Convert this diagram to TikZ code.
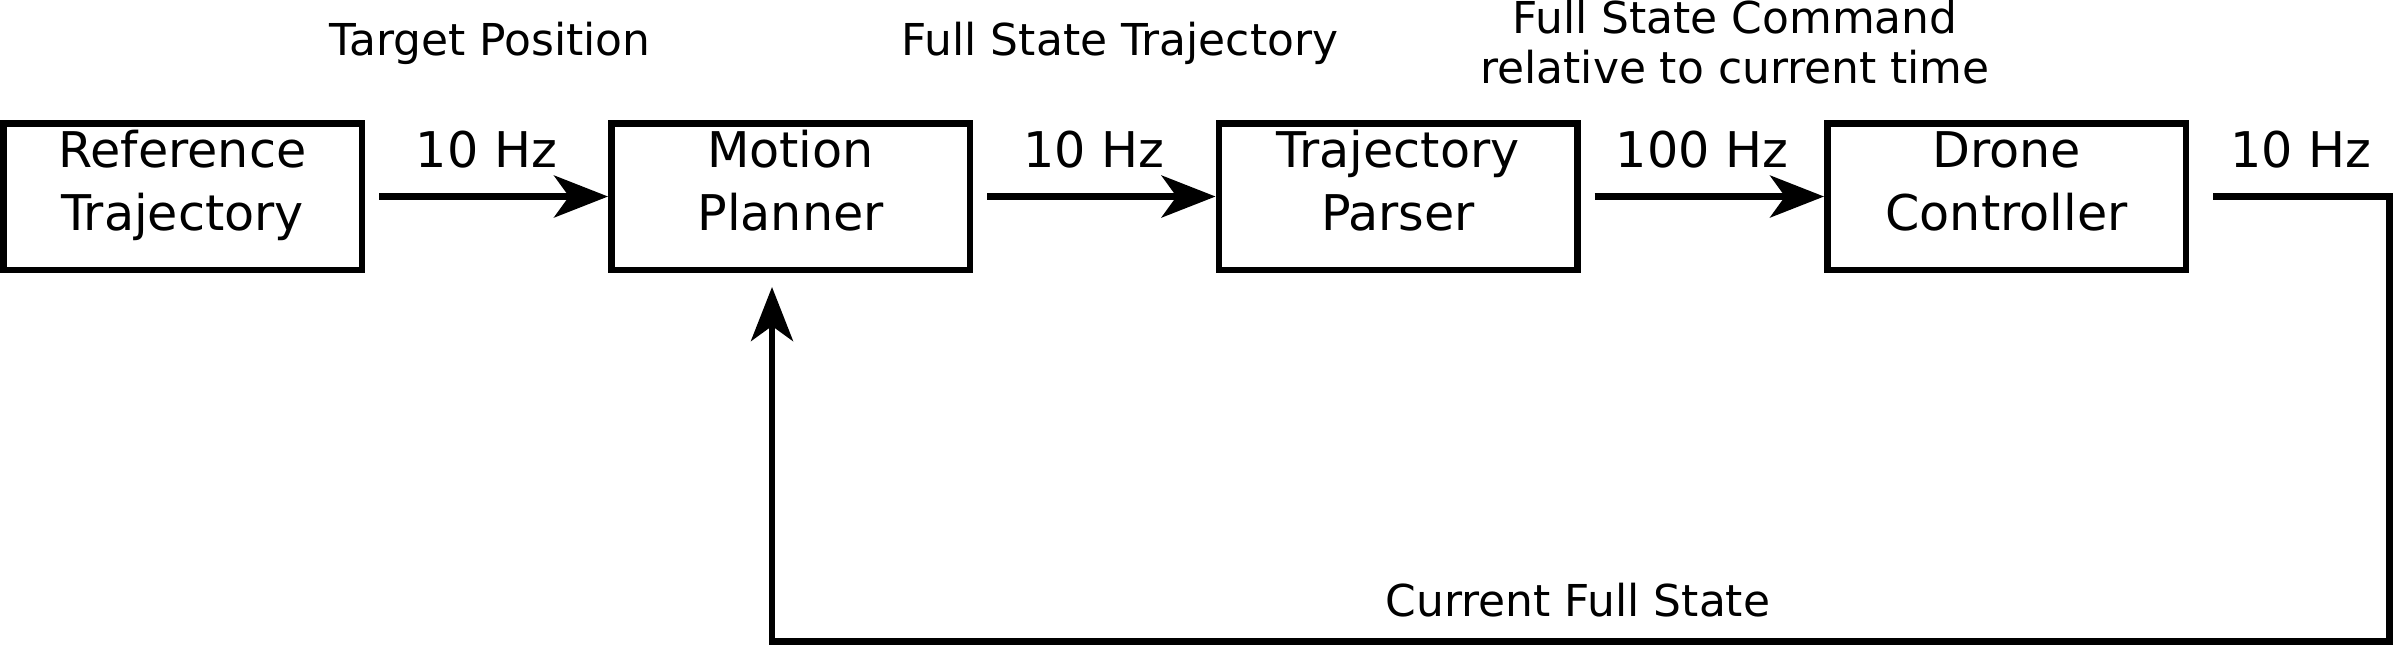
\documentclass[tikz,border=0pt]{standalone}
\usepackage{fontspec}
\setmainfont{DejaVu Sans}
\usetikzlibrary{arrows.meta}
\begin{document}
\begin{tikzpicture}[x=0.1mm,y=-0.1mm,
  every node/.style={inner sep=0pt},
  big/.style={font=\fontsize{14pt}{17.9pt}\selectfont},
  small/.style={font=\fontsize{12.5pt}{14.2pt}\selectfont},
  blk/.style={draw, line width=0.65mm, minimum width=35.85mm, minimum height=14.65mm},
  btxt/.style={big, align=center, anchor=north},
  arr/.style={line width=0.62mm, -{Stealth[length=5.4mm,width=4.2mm,inset=1.5mm]}}]
\useasboundingbox (0,0) rectangle (2395,645);
\node[blk] (b1) at (182.5,196.5) {};
\node[blk] (b2) at (790.5,196.5) {};
\node[blk] (b3) at (1398,196.5) {};
\node[blk] (b4) at (2006.5,196.5) {};
\node[btxt] (b1t) at ([yshift=-0.3mm]b1.north) {\strut Reference\\Trajectory};
\node[btxt] (b2t) at ([yshift=-0.3mm]b2.north) {\strut Motion\\Planner};
\node[btxt] (b3t) at ([yshift=-0.3mm]b3.north) {\strut Trajectory\\Parser};
\node[btxt] (b4t) at ([yshift=-0.3mm]b4.north) {\strut Drone\\Controller};
\draw[arr] ([xshift=1.4mm]b1.east) -- (b2.west);
\draw[arr] ([xshift=1.4mm]b2.east) -- (b3.west);
\draw[arr] ([xshift=1.4mm]b3.east) -- (b4.west);
\coordinate (c1) at (2389.5,196.5);
\coordinate (c2) at (2389.5,641.5);
\coordinate (c3) at (772,641.5);
\coordinate (c4) at (772,287);
\draw[arr] ([xshift=2.4mm]b4.east) -- (c1) -- (c2) -- (c3) -- (c4);
\node[big, anchor=base] (f1) at (486.5,167) {10 Hz};
\node[big, anchor=base] (f2) at (1094,167) {10 Hz};
\node[big, anchor=base] (f3) at (1702,167) {100 Hz};
\node[big, anchor=base] (f4) at (2301,167) {10 Hz};
\node[small, anchor=base] (t1) at (490,55) {Target Position};
\node[small, anchor=base] (t2) at (1120,55) {Full State Trajectory};
\node[small, align=center, anchor=north] (t3) at (1735,-2) {\strut Full State Command\\relative to current time};
\node[small, anchor=base] (t4) at (1578,616) {Current Full State};
\end{tikzpicture}
\end{document}
